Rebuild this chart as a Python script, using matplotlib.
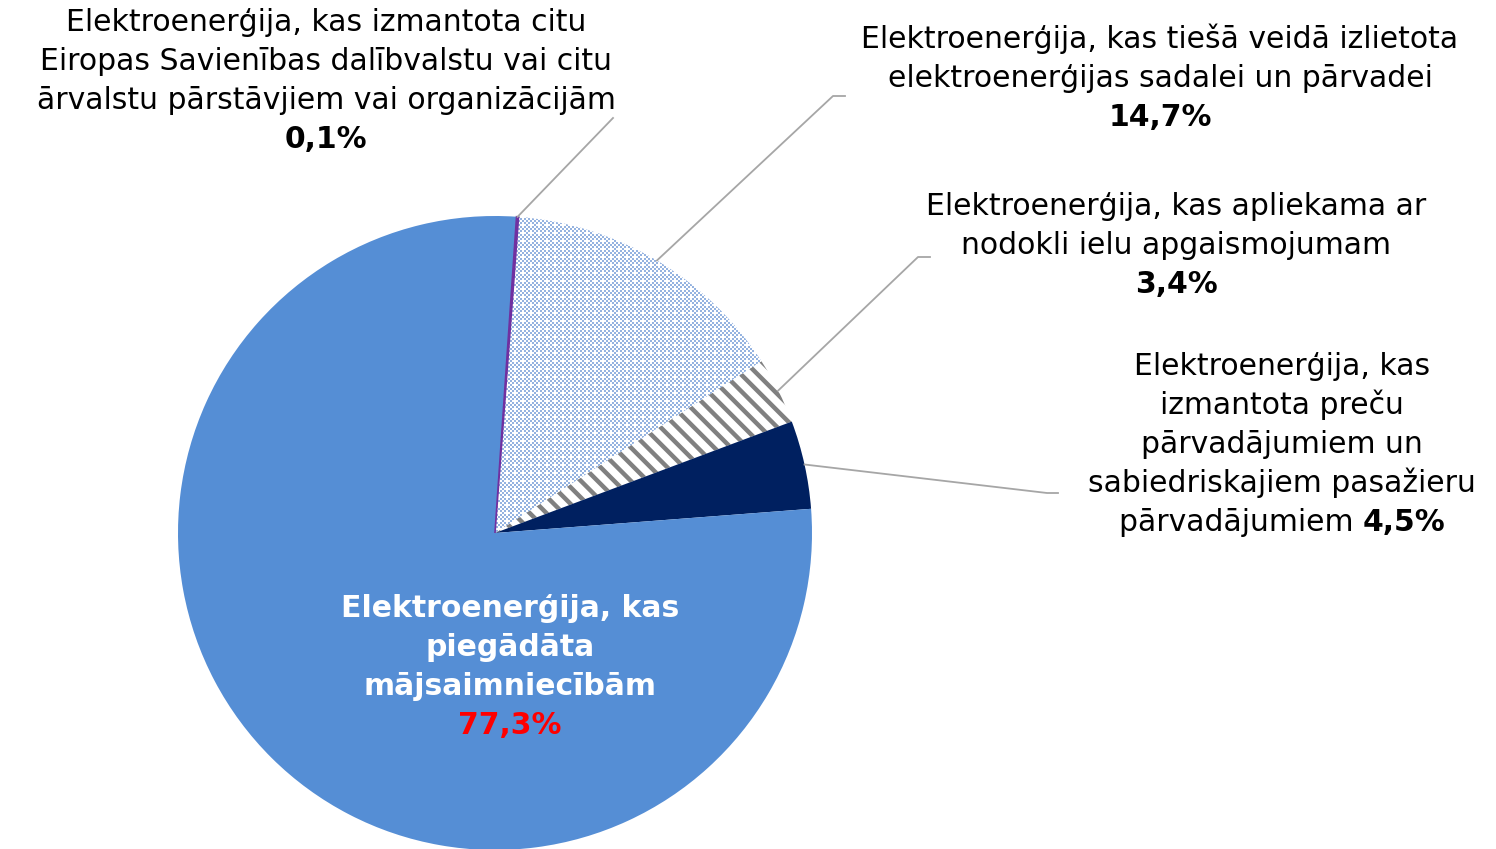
import matplotlib
matplotlib.use("Agg")
import matplotlib.pyplot as plt
import numpy as np

# ---- data ----
categories = [
    "Elektroenerģija, kas izmantota citu Eiropas Savienības dalībvalstu vai citu ārvalstu pārstāvjiem vai organizācijām",
    "Elektroenerģija, kas tiešā veidā izlietota elektroenerģijas sadalei un pārvadei",
    "Elektroenerģija, kas apliekama ar nodokli ielu apgaismojumam",
    "Elektroenerģija, kas izmantota preču pārvadājumiem un sabiedriskajiem pasažieru pārvadājumiem",
    "Elektroenerģija, kas piegādāta mājsaimniecībām",
]
values = [0.1, 14.7, 3.4, 4.5, 77.3]
pct_labels = ["0,1%", "14,7%", "3,4%", "4,5%", "77,3%"]
label_lines = [
    ["Elektroenerģija, kas izmantota citu", "Eiropas Savienības dalībvalstu vai citu",
     "ārvalstu pārstāvjiem vai organizācijām"],
    ["Elektroenerģija, kas tiešā veidā izlietota", "elektroenerģijas sadalei un pārvadei"],
    ["Elektroenerģija, kas apliekama ar", "nodokli ielu apgaismojumam"],
    ["Elektroenerģija, kas", "izmantota preču", "pārvadājumiem un",
     "sabiedriskajiem pasažieru", "pārvadājumiem"],
    ["Elektroenerģija, kas", "piegādāta", "mājsaimniecībām"],
]

W, H = 1496, 849
fig = plt.figure(figsize=(W / 100, H / 100), dpi=100)
fig.patch.set_facecolor("white")
plt.rcParams['font.family'] = ['DejaVu Sans']

cx, cy, R = 495, 533, 317
ax = fig.add_axes([(cx - R) / W, (H - cy - R) / H, 2 * R / W, 2 * R / H])

colors = ["#7030A0", "white", "white", "#002060", "#558ED5"]
wedges, _ = ax.pie(values, colors=colors, startangle=86.1, counterclock=False,
                   radius=1, wedgeprops=dict(linewidth=0))
ax.set_xlim(-1, 1)
ax.set_ylim(-1, 1)
ax.set_aspect('equal')
ax.axis('off')

# make tiny purple slice visible
wedges[0].set_edgecolor("#7030A0")
wedges[0].set_linewidth(1.2)
wedges[0].set_zorder(3)

# dotted (dither) pattern for slice 2
n = 317
yy, xx = np.mgrid[0:n, 0:n]
checker = ((xx + yy) % 2 == 0)
cross = ((xx % 4 == 0) & (yy % 4 == 0))
img = np.ones((n, n, 3))
blue = np.array([0x95, 0xB3, 0xE0]) / 255.0
img[checker & ~cross] = blue
im = ax.imshow(img, extent=(-1, 1, -1, 1), interpolation='nearest', zorder=1.5)
im.set_clip_path(wedges[1])
ax.set_xlim(-1, 1)
ax.set_ylim(-1, 1)

# diagonal stripes for slice 3
w3 = wedges[2]
w3.set_hatch('\\\\')
w3.set_edgecolor('#808080')
w3.set_linewidth(0)
if hasattr(w3, 'set_hatch_linewidth'):
    w3.set_hatch_linewidth(3.2)
else:
    plt.rcParams['hatch.linewidth'] = 3.2


def fx(x):
    return x / W


def fy(y):
    return 1 - y / H


fs = 21.5
lc = '#A6A6A6'

# leader lines: start at wedge mid-angle on the edge
leader_ends = {0: [(613, 118)], 1: [(833, 96), (845, 96)],
               2: [(918, 257), (930, 257)], 3: [(1047, 493), (1058, 493)]}
for i, pts in leader_ends.items():
    w = wedges[i]
    mid = np.deg2rad((w.theta1 + w.theta2) / 2)
    sx, sy = cx + R * np.cos(mid), cy - R * np.sin(mid)
    xs = [sx] + [p[0] for p in pts]
    ys = [sy] + [p[1] for p in pts]
    fig.add_artist(plt.Line2D([fx(x) for x in xs], [fy(y) for y in ys],
                              color=lc, linewidth=1.3, transform=fig.transFigure))

# label blocks (center x, first baseline, spacing)
blocks = [(326, 31, 39), (1160, 48, 39), (1176, 215, 39), (1282, 375, 39), (510, 617, 39)]

for i, (bx, by, sp) in enumerate(blocks):
    lines = label_lines[i]
    if i == 4:
        for k, ln in enumerate(lines):
            fig.text(fx(bx), fy(by + k * sp), ln, ha='center', va='baseline',
                     fontsize=fs, fontweight='bold', color='white')
        fig.text(fx(bx), fy(by + len(lines) * sp), pct_labels[i], ha='center',
                 va='baseline', fontsize=fs, fontweight='bold', color='#FF0000')
    elif i == 3:
        for k, ln in enumerate(lines[:-1]):
            fig.text(fx(bx), fy(by + k * sp), ln, ha='center', va='baseline',
                     fontsize=fs, color='black')
        # last line: normal + bold
        yb = fy(by + (len(lines) - 1) * sp)
        t1 = fig.text(0, yb, lines[-1] + " ", ha='left', va='baseline', fontsize=fs)
        t2 = fig.text(0, yb, pct_labels[i], ha='left', va='baseline', fontsize=fs,
                      fontweight='bold')
        r = fig.canvas.get_renderer()
        w1 = t1.get_window_extent(r).width
        w2 = t2.get_window_extent(r).width
        x0 = bx - (w1 + w2) / 2
        t1.set_x(fx(x0))
        t2.set_x(fx(x0 + w1))
    else:
        for k, ln in enumerate(lines):
            fig.text(fx(bx), fy(by + k * sp), ln, ha='center', va='baseline',
                     fontsize=fs, color='black')
        fig.text(fx(bx), fy(by + len(lines) * sp), pct_labels[i], ha='center',
                 va='baseline', fontsize=fs, fontweight='bold', color='black')

fig.savefig("out.png", dpi=100, facecolor='white')
